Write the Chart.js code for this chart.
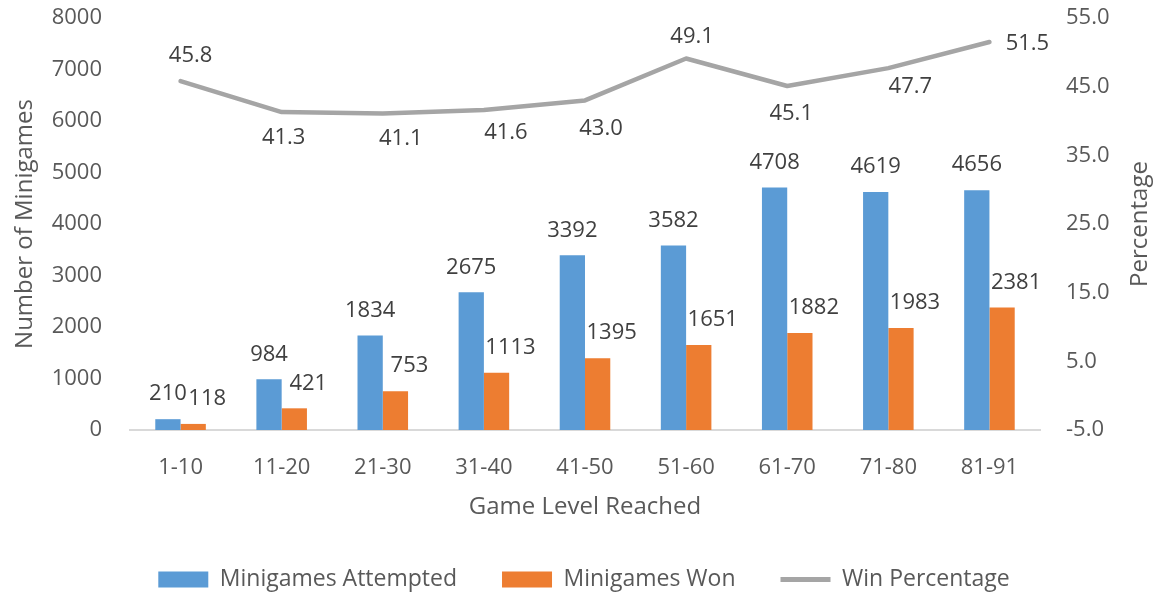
<!DOCTYPE html>
<html>
<head>
<meta charset="utf-8">
<script src="https://cdn.jsdelivr.net/npm/chart.js@4.4.1/dist/chart.umd.min.js"></script>
<style>
  html, body { margin: 0; padding: 0; background: #fff; overflow: hidden; }
  #wrap { width: 1168px; height: 592px; overflow: hidden; }
  #inner { width: 1168px; height: 601px; }
</style>
</head>
<body>
<div id="wrap"><div id="inner"><canvas id="chart"></canvas></div></div>
<script>
/* Datos del gráfico */
const levels = ["1-10", "11-20", "21-30", "31-40", "41-50", "51-60", "61-70", "71-80", "81-91"];
const attempted = [210, 984, 1834, 2675, 3392, 3582, 4708, 4619, 4656];
const won = [118, 421, 753, 1113, 1395, 1651, 1882, 1983, 2381];
const winPct = [45.8, 41.3, 41.1, 41.6, 43.0, 49.1, 45.1, 47.7, 51.5];

/* Desplazamiento de las etiquetas de la línea (px) */
const pctLabelDx = [10, 2, 18, 22, 16, 6, 4, 22, 38];
const pctLabelDy = [-25, 26, 25, 23, 28, -22, 28, 19, 2];

const FONT = '"Open Sans", "Noto Sans", sans-serif';
const TEXT = "#595959";

/* --------------------------------------------
   Etiquetas de valores sobre barras y línea
-------------------------------------------- */
const valueLabels = {
    id: "valueLabels",
    afterDatasetsDraw(chart) {
        const ctx = chart.ctx;
        ctx.save();
        ctx.font = "22px " + FONT;
        ctx.fillStyle = "#404040";
        ctx.textAlign = "center";
        ctx.textBaseline = "middle";
        chart.data.datasets.forEach((ds, i) => {
            const meta = chart.getDatasetMeta(i);
            meta.data.forEach((el, j) => {
                const v = ds.data[j];
                if (ds.type === "line") {
                    ctx.fillText(v.toFixed(1), el.x + pctLabelDx[j], el.y + pctLabelDy[j]);
                } else {
                    const dx = i === 1 ? 14 : 0;
                    ctx.fillText(String(v), el.x + dx, el.y - 25);
                }
            });
        });
        ctx.restore();
    },
    afterDraw(chart) {
        // título del eje derecho, leído de abajo hacia arriba
        const ctx = chart.ctx;
        const a = chart.chartArea;
        ctx.save();
        ctx.translate(1140, (a.top + a.bottom) / 2);
        ctx.rotate(-Math.PI / 2);
        ctx.font = "24px " + FONT;
        ctx.fillStyle = TEXT;
        ctx.textAlign = "center";
        ctx.textBaseline = "middle";
        ctx.fillText("Percentage", 0, 0);
        ctx.restore();
    }
};

/* fija el margen superior del área de trazado */
const fixVertical = (s) => {
    s.paddingTop = 18;
    s.paddingBottom = 0;
};

new Chart(document.getElementById("chart"), {
    data: {
        labels: levels,
        datasets: [
            {
                type: "bar",
                label: "Minigames Attempted",
                data: attempted,
                backgroundColor: "#5B9BD5",
                yAxisID: "y",
                categoryPercentage: 0.5,
                barPercentage: 1.0
            },
            {
                type: "bar",
                label: "Minigames Won",
                data: won,
                backgroundColor: "#ED7D31",
                yAxisID: "y",
                categoryPercentage: 0.5,
                barPercentage: 1.0
            },
            {
                type: "line",
                label: "Win Percentage",
                data: winPct,
                borderColor: "#A5A5A5",
                backgroundColor: "#A5A5A5",
                borderWidth: 4.5,
                borderCapStyle: "round",
                borderJoinStyle: "round",
                pointRadius: 0,
                tension: 0,
                yAxisID: "y1"
            }
        ]
    },
    options: {
        responsive: true,
        maintainAspectRatio: false,
        animation: false,
        devicePixelRatio: 1,
        layout: { padding: 0 },
        plugins: {
            tooltip: { enabled: false },
            legend: {
                position: "bottom",
                labels: {
                    usePointStyle: true,
                    pointStyleWidth: 50,
                    boxHeight: 16,
                    padding: 45,
                    color: TEXT,
                    font: { family: FONT, size: 23 },
                    generateLabels(chart) {
                        return chart.data.datasets.map((ds, i) => ({
                            text: ds.label,
                            datasetIndex: i,
                            fillStyle: ds.backgroundColor,
                            strokeStyle: ds.type === "line" ? ds.borderColor : ds.backgroundColor,
                            lineWidth: ds.type === "line" ? 5 : 0,
                            pointStyle: ds.type === "line" ? "line" : "rect",
                            fontColor: TEXT,
                            hidden: false
                        }));
                    }
                }
            }
        },
        scales: {
            x: {
                grid: { display: false, drawTicks: false },
                border: { display: true, color: "#D9D9D9", width: 2 },
                ticks: { color: TEXT, font: { family: FONT, size: 22 }, padding: 25 },
                title: {
                    display: true,
                    text: "Game Level Reached",
                    color: TEXT,
                    font: { family: FONT, size: 24 },
                    padding: { top: 0, bottom: 1 }
                },
                afterFit(s) { s.height = 93; }
            },
            y: {
                position: "left",
                min: 0,
                max: 8000,
                grid: { display: false, drawTicks: false },
                border: { display: false },
                ticks: {
                    stepSize: 1000,
                    color: TEXT,
                    font: { family: FONT, size: 22 },
                    padding: 28,
                    callback: v => String(v)
                },
                title: {
                    display: true,
                    text: "Number of Minigames",
                    color: TEXT,
                    font: { family: FONT, size: 24 },
                    padding: { top: 11, bottom: 0 }
                },
                afterFit(s) { s.width = 130; fixVertical(s); }
            },
            y1: {
                position: "right",
                min: -5,
                max: 55,
                grid: { display: false, drawTicks: false },
                border: { display: false },
                ticks: {
                    stepSize: 10,
                    color: TEXT,
                    font: { family: FONT, size: 22 },
                    padding: 26,
                    callback: v => Number(v).toFixed(1)
                },
                afterFit(s) { s.width = 128; fixVertical(s); }
            }
        }
    },
    plugins: [valueLabels]
});
</script>
</body>
</html>
